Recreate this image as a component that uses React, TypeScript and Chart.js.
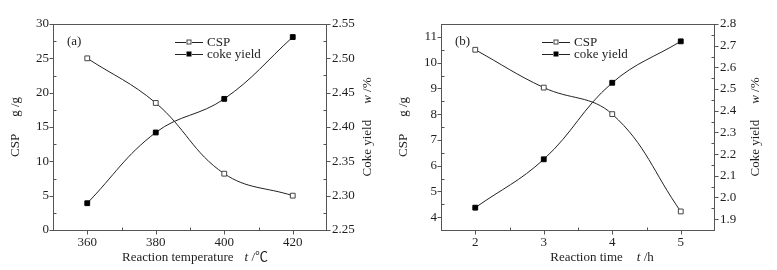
import React, { useEffect, useRef } from "react";
import { Chart, registerables } from "chart.js";
Chart.register(...registerables);

// ---------- data ----------
const seriesNames = ["CSP", "coke yield"];

// panel (a): reaction temperature
const tempA = [360, 380, 400, 420];
const cspA = [25.0, 18.5, 8.2, 5.0];
const cokeA = [2.289, 2.392, 2.441, 2.531];
const xTicksA = [360, 380, 400, 420];
const yLeftTicksA = [0, 5, 10, 15, 20, 25, 30];
const yRightTicksA = [2.25, 2.3, 2.35, 2.4, 2.45, 2.5, 2.55];

// panel (b): reaction time
const timeB = [2, 3, 4, 5];
const cspB = [10.5, 9.03, 8.0, 4.22];
const cokeB = [1.953, 2.176, 2.529, 2.72];
const xTicksB = [2, 3, 4, 5];
const yLeftTicksB = [4, 5, 6, 7, 8, 9, 10, 11];
const yRightTicksB = [1.9, 2.0, 2.1, 2.2, 2.3, 2.4, 2.5, 2.6, 2.7, 2.8];

const FF = '"Liberation Serif", "Times New Roman", "Noto Sans CJK SC", serif';
const TEXT = "#1e1e1e";
const FRAME = "#555";
const LINE = "#222";

type Seg = { text: string; italic?: boolean; gap?: number };

function drawSegs(ctx: CanvasRenderingContext2D, segs: Seg[], cx: number, cy: number, rot: boolean) {
  ctx.save();
  ctx.translate(cx, cy);
  if (rot) ctx.rotate(-Math.PI / 2);
  const fN = `13px ${FF}`;
  const fI = `italic 13px ${FF}`;
  let total = 0;
  const widths = segs.map((s) => {
    ctx.font = s.italic ? fI : fN;
    const w = ctx.measureText(s.text).width;
    total += w + (s.gap || 0);
    return w;
  });
  let x = -total / 2;
  ctx.textBaseline = "middle";
  ctx.textAlign = "left";
  ctx.fillStyle = TEXT;
  segs.forEach((s, i) => {
    x += s.gap || 0;
    ctx.font = s.italic ? fI : fN;
    ctx.fillText(s.text, x, 0);
    x += widths[i];
  });
  ctx.restore();
}

type PanelCfg = {
  width: number;
  xVals: number[];
  csp: number[];
  coke: number[];
  xTicks: number[];
  yLTicks: number[];
  yRTicks: number[];
  xMin: number; xMax: number;
  yLMin: number; yLMax: number;
  yRMin: number; yRMax: number;
  rightDecimals: number;
  rightWidth: number;
  tag: string;
  legendDX: number;
  xTitle: Seg[];
  xTitleCX: number;
  leftTitleX: number;
  rightTitleX: number;
};

function minorVals(ticks: number[], min: number, max: number) {
  const out: number[] = [];
  const step = ticks[1] - ticks[0];
  const cand = [ticks[0] - step / 2, ...ticks.map((t) => t + step / 2)];
  cand.forEach((v) => {
    if (v > min + 1e-9 && v < max - 1e-9) out.push(v);
  });
  return out;
}

function Panel({ cfg }: { cfg: PanelCfg }) {
  const ref = useRef<HTMLCanvasElement | null>(null);
  useEffect(() => {
    if (!ref.current) return;
    const decor = {
      id: "decor",
      afterDraw(chart: any) {
        const ctx: CanvasRenderingContext2D = chart.ctx;
        const a = chart.chartArea;
        const sx = chart.scales.x, sy = chart.scales.y, sy1 = chart.scales.y1;
        ctx.save();
        // frame
        ctx.strokeStyle = FRAME;
        ctx.lineWidth = 1;
        ctx.strokeRect(Math.round(a.left) + 0.5, Math.round(a.top) + 0.5, Math.round(a.right - a.left) - 1, Math.round(a.bottom - a.top));
        ctx.beginPath();
        // x ticks
        const by = Math.round(a.bottom) + 0.5;
        cfg.xTicks.forEach((v) => {
          const p = Math.round(sx.getPixelForValue(v)) + 0.5;
          ctx.moveTo(p, by); ctx.lineTo(p, by + 4);
        });
        minorVals(cfg.xTicks, cfg.xMin, cfg.xMax).forEach((v) => {
          const p = Math.round(sx.getPixelForValue(v)) + 0.5;
          ctx.moveTo(p, by); ctx.lineTo(p, by - 3);
        });
        // left y ticks
        const lx = Math.round(a.left) + 0.5;
        cfg.yLTicks.forEach((v) => {
          const p = Math.round(sy.getPixelForValue(v)) + 0.5;
          ctx.moveTo(lx, p); ctx.lineTo(lx - 4, p);
        });
        minorVals(cfg.yLTicks, cfg.yLMin, cfg.yLMax).forEach((v) => {
          const p = Math.round(sy.getPixelForValue(v)) + 0.5;
          ctx.moveTo(lx, p); ctx.lineTo(lx + 3, p);
        });
        // right y ticks
        const rx = Math.round(a.right) - 0.5;
        cfg.yRTicks.forEach((v) => {
          const p = Math.round(sy1.getPixelForValue(v)) + 0.5;
          ctx.moveTo(rx, p); ctx.lineTo(rx + 4, p);
        });
        minorVals(cfg.yRTicks, cfg.yRMin, cfg.yRMax).forEach((v) => {
          const p = Math.round(sy1.getPixelForValue(v)) + 0.5;
          ctx.moveTo(rx, p); ctx.lineTo(rx - 3, p);
        });
        ctx.stroke();

        // panel tag
        ctx.fillStyle = TEXT;
        ctx.font = `13px ${FF}`;
        ctx.textBaseline = "middle";
        ctx.textAlign = "left";
        ctx.fillText(cfg.tag, a.left + 14, a.top + 18);

        // legend
        const lgx = a.left + cfg.legendDX;
        chart.data.datasets.forEach((ds: any, i: number) => {
          const yy = Math.round(a.top + 17.5 + i * 12.5) + 0.5;
          ctx.strokeStyle = LINE;
          ctx.lineWidth = 1;
          ctx.beginPath();
          ctx.moveTo(lgx, yy); ctx.lineTo(lgx + 11, yy);
          ctx.moveTo(lgx + 17, yy); ctx.lineTo(lgx + 28, yy);
          ctx.stroke();
          ctx.fillStyle = ds.pointBackgroundColor;
          ctx.fillRect(lgx + 12, yy - 2.5, 4, 4);
          ctx.strokeStyle = ds.pointBorderColor;
          ctx.strokeRect(lgx + 12, yy - 2.5, 4, 4);
          ctx.fillStyle = TEXT;
          ctx.font = `13px ${FF}`;
          ctx.textBaseline = "middle";
          ctx.fillText(ds.label, lgx + 32, yy);
        });

        // axis titles
        const cy = (a.top + a.bottom) / 2;
        drawSegs(ctx, [{ text: "CSP" }, { text: "g /g", gap: 17 }], cfg.leftTitleX, cy, true);
        drawSegs(ctx, [{ text: "Coke yield" }, { text: "w", italic: true, gap: 16 }, { text: " /%" }], cfg.rightTitleX, cy, true);
        drawSegs(ctx, cfg.xTitle, cfg.xTitleCX, 258, false);
        ctx.restore();
      },
    };

    const tickFont = { family: FF, size: 13 };
    const chart = new Chart(ref.current, {
      type: "line",
      data: {
        datasets: [
          {
            label: seriesNames[0],
            data: cfg.xVals.map((x, i) => ({ x, y: cfg.csp[i] })),
            yAxisID: "y",
            borderColor: LINE,
            borderWidth: 1,
            tension: 0.4,
            pointStyle: "rect",
            pointRadius: 3.4,
            pointBackgroundColor: "#fff",
            pointBorderColor: "#444",
            pointBorderWidth: 1,
          },
          {
            label: seriesNames[1],
            data: cfg.xVals.map((x, i) => ({ x, y: cfg.coke[i] })),
            yAxisID: "y1",
            borderColor: LINE,
            borderWidth: 1,
            tension: 0.4,
            pointStyle: "rect",
            pointRadius: 3.4,
            pointBackgroundColor: "#000",
            pointBorderColor: "#000",
            pointBorderWidth: 1,
          },
        ],
      },
      options: {
        animation: false,
        responsive: false,
        events: [],
        layout: { padding: { top: 24, left: 0, right: 0, bottom: 0 } },
        plugins: { legend: { display: false }, tooltip: { enabled: false } },
        scales: {
          x: {
            type: "linear",
            min: cfg.xMin,
            max: cfg.xMax,
            grid: { display: false, drawTicks: false },
            border: { display: false },
            afterBuildTicks: (s: any) => { s.ticks = cfg.xTicks.map((v) => ({ value: v })); },
            afterFit: (s: any) => { s.height = 40; },
            ticks: { autoSkip: false, maxRotation: 0, padding: 5, color: TEXT, font: tickFont, callback: (v: any) => String(v) },
          },
          y: {
            type: "linear",
            position: "left",
            min: cfg.yLMin,
            max: cfg.yLMax,
            grid: { display: false, drawTicks: false },
            border: { display: false },
            afterBuildTicks: (s: any) => { s.ticks = cfg.yLTicks.map((v) => ({ value: v })); },
            afterFit: (s: any) => { s.width = 53; },
            ticks: { autoSkip: false, padding: 4, color: TEXT, font: tickFont, callback: (v: any) => String(v) },
          },
          y1: {
            type: "linear",
            position: "right",
            min: cfg.yRMin,
            max: cfg.yRMax,
            grid: { display: false, drawTicks: false },
            border: { display: false },
            afterBuildTicks: (s: any) => { s.ticks = cfg.yRTicks.map((v) => ({ value: v })); },
            afterFit: (s: any) => { s.width = cfg.rightWidth; },
            ticks: { autoSkip: false, padding: 5, color: TEXT, font: tickFont, callback: (v: any) => Number(v).toFixed(cfg.rightDecimals) },
          },
        },
      },
      plugins: [decor],
    } as any);
    return () => chart.destroy();
  }, [cfg]);
  return <canvas ref={ref} width={cfg.width} height={270} style={{ display: "block", width: cfg.width, height: 270 }} />;
}

const cfgA: PanelCfg = {
  width: 388,
  xVals: tempA, csp: cspA, coke: cokeA,
  xTicks: xTicksA, yLTicks: yLeftTicksA, yRTicks: yRightTicksA,
  xMin: 350, xMax: 430, yLMin: 0, yLMax: 30, yRMin: 2.25, yRMax: 2.55,
  rightDecimals: 2, rightWidth: 61, tag: "(a)", legendDX: 122,
  xTitle: [{ text: "Reaction temperature" }, { text: "t", italic: true, gap: 11 }, { text: " /\u2103" }],
  xTitleCX: 195, leftTitleX: 16, rightTitleX: 368,
};

const cfgB: PanelCfg = {
  width: 389,
  xVals: timeB, csp: cspB, coke: cokeB,
  xTicks: xTicksB, yLTicks: yLeftTicksB, yRTicks: yRightTicksB,
  xMin: 1.5, xMax: 5.5, yLMin: 3.5, yLMax: 11.5, yRMin: 1.85, yRMax: 2.8,
  rightDecimals: 1, rightWidth: 62, tag: "(b)", legendDX: 101,
  xTitle: [{ text: "Reaction time" }, { text: "t", italic: true, gap: 14 }, { text: " /h" }],
  xTitleCX: 214, leftTitleX: 16, rightTitleX: 368,
};

export default function App() {
  return (
    <div style={{ position: "absolute", left: 0, top: 0, width: 777, height: 270, display: "flex", background: "#fff" }}>
      <Panel cfg={cfgA} />
      <Panel cfg={cfgB} />
    </div>
  );
}
